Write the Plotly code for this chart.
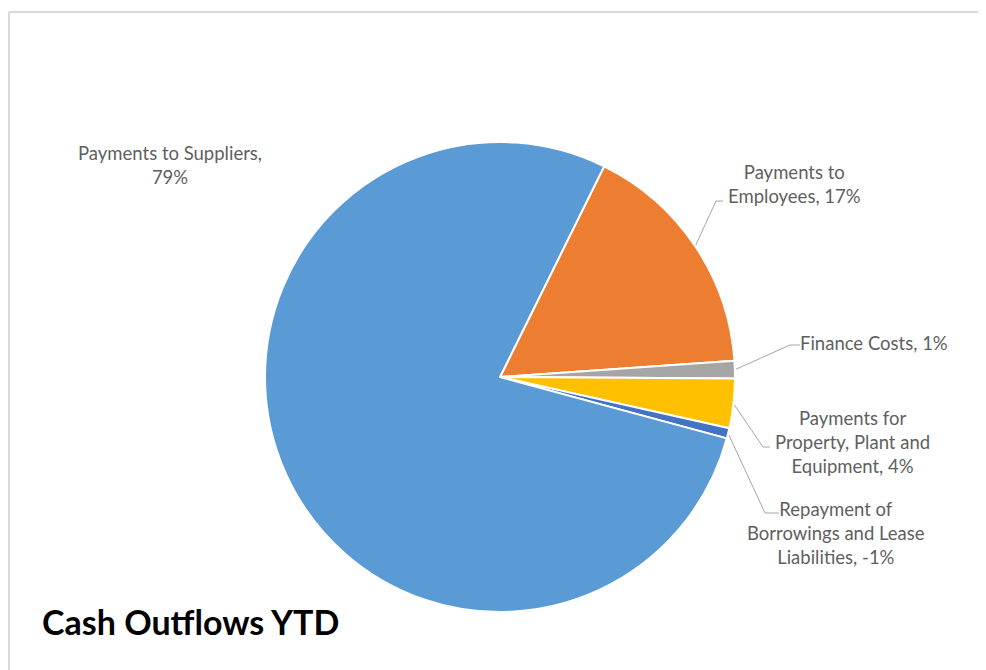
import math
import plotly.graph_objects as go

# ---- data ----
categories = [
    "Payments to Employees",
    "Finance Costs",
    "Payments for Property, Plant and Equipment",
    "Repayment of Borrowings and Lease Liabilities",
    "Payments to Suppliers",
]
values = [16.6, 1.2, 3.4, 0.7, 78.1]          # slice sizes (share of total outflows)
label_pct = ["17%", "1%", "4%", "-1%", "79%"]  # percentages as printed on the chart
label_text = [
    "Payments to<br>Employees, 17%",
    "Finance Costs, 1%",
    "Payments for<br>Property, Plant and<br>Equipment, 4%",
    "Repayment of<br>Borrowings and Lease<br>Liabilities, -1%",
    "Payments to Suppliers,<br>79%",
]
colors = ["#ED7D31", "#A5A5A5", "#FFC000", "#4472C4", "#5B9BD5"]

# ---- layout constants (screen pixels; page body has an 8px margin) ----
OFF = 8
W, H = 986 - OFF, 670 - OFF
CX, CY, R = 500 - OFF, 377 - OFF, 235
ROTATION = 26.3
FONT = "Lato"
TXT = "#5F5F5F"
label_pos = [(794, 184), (874, 343), (852, 442), (836, 533), (170, 165)]
elbows = [[(716, 201), (723, 201)],
          [(790, 345), (800, 345)],
          [(763, 447), (770, 447)],
          [(765, 513), (779, 513)],
          None]

fig = go.Figure()
fig.add_trace(go.Pie(
    labels=categories, values=values, sort=False, direction="clockwise",
    rotation=ROTATION, textinfo="none", hoverinfo="label+percent",
    marker=dict(colors=colors, line=dict(color="white", width=2)),
    domain=dict(x=[(CX - R) / W, (CX + R) / W], y=[1 - (CY + R) / H, 1 - (CY - R) / H]),
    showlegend=False,
))

fig.add_trace(go.Scatter(x=[None], y=[None], xaxis="x", yaxis="y", showlegend=False))

total = sum(values)
start = ROTATION
for i, v in enumerate(values):
    frac = v / total
    mid = math.radians(start + frac * 180)
    start += frac * 360
    ax_ = CX + R * math.sin(mid)
    ay_ = CY - R * math.cos(mid)
    if elbows[i] is not None:
        xs = [ax_] + [p[0] - OFF for p in elbows[i]]
        ys = [ay_] + [p[1] - OFF for p in elbows[i]]
        fig.add_trace(go.Scatter(x=xs, y=ys, mode="lines",
                                 line=dict(color="#A6A6A6", width=1),
                                 hoverinfo="skip", showlegend=False))
    lx, ly = label_pos[i]
    fig.add_annotation(x=lx - OFF, y=ly - OFF, xref="x", yref="y", text=label_text[i],
                       showarrow=False, align="center",
                       font=dict(family=FONT, size=18.5, color=TXT))

fig.add_annotation(x=40 - OFF, y=621 - OFF, xref="x", yref="y", text="<b>Cash Outflows YTD</b>",
                   showarrow=False, xanchor="left", yanchor="middle",
                   font=dict(family=FONT, size=34, color="#000000"))

# chart frame (top and left edges)
fig.add_shape(type="line", x0=1, y0=12 - OFF, x1=W, y1=12 - OFF, xref="x", yref="y",
              line=dict(color="#D9D9D9", width=2))
fig.add_shape(type="line", x0=1, y0=12 - OFF, x1=1, y1=H, xref="x", yref="y",
              line=dict(color="#D9D9D9", width=2))

fig.update_layout(
    width=W, height=H, margin=dict(l=0, r=0, t=0, b=0),
    paper_bgcolor="white", plot_bgcolor="rgba(0,0,0,0)",
    xaxis=dict(range=[0, W], visible=False, fixedrange=True),
    yaxis=dict(range=[H, 0], visible=False, fixedrange=True),
    font=dict(family=FONT),
)

fig.write_html("out.html")
